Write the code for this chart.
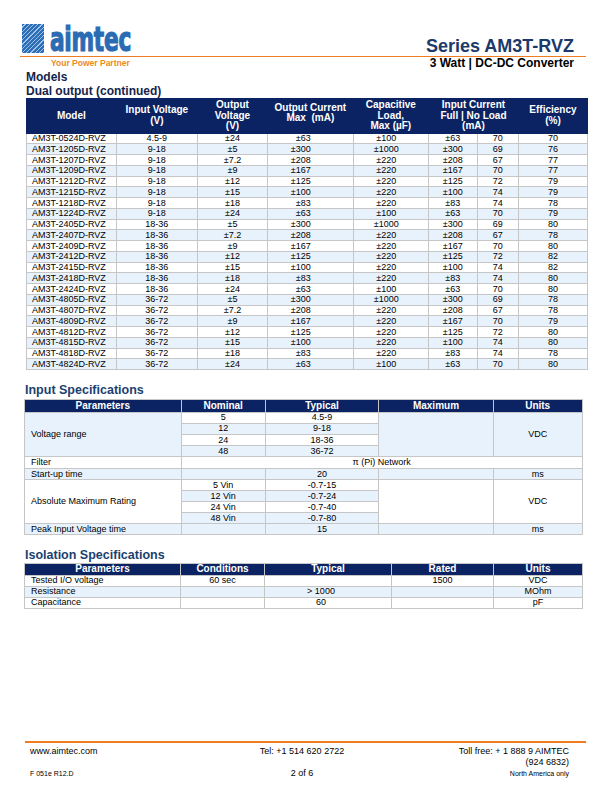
<!DOCTYPE html>
<html>
<head>
<meta charset="utf-8">
<script src="https://cdn.jsdelivr.net/npm/chart.js@4"></script>
<style>
  html, body { margin: 0; padding: 0; background: #fff; }
  #page { position: relative; width: 612px; height: 792px; overflow: hidden;
          font-family: "Liberation Sans", Arial, sans-serif; color: #000; }
  .t { position: absolute; white-space: nowrap; line-height: 1; }
  table { position: absolute; border-collapse: collapse; table-layout: fixed; font-size: 9px; }
  th { background: #0b2363; color: #fff; font-weight: bold; font-size: 10px; line-height: 10.5px;
       padding: 0; text-align: center; vertical-align: middle; }
  td { padding: 0; line-height: 9px; text-align: center; vertical-align: middle;
       border: 1px solid #c6c6c6; white-space: nowrap; overflow: hidden; }
  .blue td, td.blue { background: #e8f2fd; }
  td.l { text-align: left; padding-left: 5px; }
  #models th { border: 1px solid #0b2363; }
  #specs th, #iso th { border: 1px solid #c6c6c6; }
  .hline { position: absolute; background: #f07c22; height: 1.5px; }
</style>
</head>
<body>
<div id="page"></div>
<script>
// model table (dual output, continued)
const modelNames = ['AM3T-0524D-RVZ','AM3T-1205D-RVZ','AM3T-1207D-RVZ','AM3T-1209D-RVZ','AM3T-1212D-RVZ',
  'AM3T-1215D-RVZ','AM3T-1218D-RVZ','AM3T-1224D-RVZ','AM3T-2405D-RVZ','AM3T-2407D-RVZ','AM3T-2409D-RVZ',
  'AM3T-2412D-RVZ','AM3T-2415D-RVZ','AM3T-2418D-RVZ','AM3T-2424D-RVZ','AM3T-4805D-RVZ','AM3T-4807D-RVZ',
  'AM3T-4809D-RVZ','AM3T-4812D-RVZ','AM3T-4815D-RVZ','AM3T-4818D-RVZ','AM3T-4824D-RVZ'];
const inputVoltages = ['4.5-9','9-18','9-18','9-18','9-18','9-18','9-18','9-18','18-36','18-36','18-36',
  '18-36','18-36','18-36','18-36','36-72','36-72','36-72','36-72','36-72','36-72','36-72'];
const outputVoltages = ['±24','±5','±7.2','±9','±12','±15','±18','±24','±5','±7.2','±9',
  '±12','±15','±18','±24','±5','±7.2','±9','±12','±15','±18','±24'];
const outputCurrents = ['±63','±300','±208','±167','±125','±100','±83','±63','±300','±208','±167',
  '±125','±100','±83','±63','±300','±208','±167','±125','±100','±83','±63'];
const capLoads = ['±100','±1000','±220','±220','±220','±220','±220','±100','±1000','±220','±220',
  '±220','±220','±220','±100','±1000','±220','±220','±220','±220','±220','±100'];
const inputFullLoad = ['±63','±300','±208','±167','±125','±100','±83','±63','±300','±208','±167',
  '±125','±100','±83','±63','±300','±208','±167','±125','±100','±83','±63'];
const inputNoLoad = ['70','69','67','70','72','74','74','70','69','67','70',
  '72','74','74','70','69','67','70','72','74','74','70'];
const efficiencies = ['70','76','77','77','79','79','78','79','80','78','80',
  '82','82','80','80','78','78','79','80','80','78','80'];

// input specifications
const nominalInputs = ['5','12','24','48'];
const typicalRanges = ['4.5-9','9-18','18-36','36-72'];
const absMaxInputs = ['5 Vin','12 Vin','24 Vin','48 Vin'];
const absMaxRanges = ['-0.7-15','-0.7-24','-0.7-40','-0.7-80'];
const filterType = 'π (Pi) Network';
const startupTime = '20';
const peakTime = '15';

// isolation specifications
const isoParams = ['Tested I/O voltage','Resistance','Capacitance'];
const isoConditions = ['60 sec','',''];
const isoTypical = ['','> 1000','60'];
const isoRated = ['1500','',''];
const isoUnits = ['VDC','MOhm','pF'];

const page = document.getElementById('page');

// place a text by its baseline
function txt(s, x, base, size, opt) {
  opt = opt || {};
  const d = document.createElement('div');
  d.className = 't';
  d.textContent = s;
  d.style.fontSize = size + 'px';
  d.style.top = (base - 0.8465 * size) + 'px';
  if (opt.bold) d.style.fontWeight = 'bold';
  if (opt.color) d.style.color = opt.color;
  if (opt.align === 'right') { d.style.right = (612 - x) + 'px'; }
  else if (opt.align === 'center') { d.style.left = (x - 150) + 'px'; d.style.width = '300px'; d.style.textAlign = 'center'; }
  else d.style.left = x + 'px';
  page.appendChild(d);
  return d;
}
function hline(x1, x2, y) {
  const d = document.createElement('div');
  d.className = 'hline';
  d.style.left = x1 + 'px'; d.style.width = (x2 - x1) + 'px'; d.style.top = y + 'px';
  page.appendChild(d);
}

// logo
const sq = document.createElement('div');
sq.style.cssText = 'position:absolute;left:22px;top:24px;width:22px;height:29px;' +
  'background:repeating-linear-gradient(135deg,#2d6fb7 0 2px,#9fc3e8 2px 3px),#2d6fb7;';
page.appendChild(sq);
const logo = txt('aimtec', 50, 51, 26, { bold: true, color: '#2a6bb3' });
logo.style.fontFamily = '"Liberation Sans Narrow","DejaVu Sans Condensed",sans-serif';
logo.style.webkitTextStroke = '0.9px #2a6bb3';
logo.style.letterSpacing = '-0.3px';
// squeeze the word into the logo width, tall letters
const lw = logo.getBoundingClientRect().width;
logo.style.transformOrigin = '0 ' + (0.8465 * 26) + 'px';
logo.style.transform = 'scale(' + (81 / lw) + ',1.32)';
txt('Your Power Partner', 51, 66, 8.5, { bold: true, color: '#ee8a22' });

// title block
txt('Series AM3T-RVZ', 574, 52, 18, { bold: true, color: '#1b3a6b', align: 'right' });
hline(20, 586, 55.5);
txt('3 Watt | DC-DC Converter', 574, 67.5, 12, { bold: true, align: 'right' });
txt('Models', 26, 81.5, 12, { bold: true, color: '#16254a' });
txt('Dual output (continued)', 26, 95.5, 12, { bold: true, color: '#16254a' });

// models table
let h = '<colgroup><col style="width:89.7px"><col style="width:81.3px"><col style="width:70px">' +
  '<col style="width:85.7px"><col style="width:75.3px"><col style="width:48.7px"><col style="width:41.3px">' +
  '<col style="width:69px"></colgroup>';
h += '<tr style="height:34.7px"><th>Model</th><th>Input Voltage<br>(V)</th><th>Output<br>Voltage<br>(V)</th>' +
  '<th style="padding-bottom:5px">Output Current<br>Max&nbsp; (mA)</th><th>Capacitive<br>Load,<br>Max (µF)</th>' +
  '<th colspan="2">Input Current<br>Full | No Load<br>(mA)</th><th>Efficiency<br>(%)</th></tr>';
modelNames.forEach((m, i) => {
  h += '<tr style="height:10.75px"' + (i % 2 ? ' class="blue"' : '') + '>' +
    '<td class="l">' + m + '</td><td>' + inputVoltages[i] + '</td><td>' + outputVoltages[i] + '</td>' +
    '<td style="text-align:right;padding-right:42px">' + outputCurrents[i] + '</td>' +
    '<td style="padding-right:9px">' + capLoads[i] + '</td><td>' + inputFullLoad[i] + '</td>' +
    '<td>' + inputNoLoad[i] + '</td><td>' + efficiencies[i] + '</td></tr>';
});
const tm = document.createElement('table');
tm.id = 'models';
tm.style.cssText = 'left:26px;top:98px;width:561px;';
tm.innerHTML = h;
page.appendChild(tm);

// input specifications
txt('Input Specifications', 25, 394.5, 12.5, { bold: true, color: '#1b3f70' });
h = '<colgroup><col style="width:156.7px"><col style="width:84px"><col style="width:113.6px">' +
  '<col style="width:114.4px"><col style="width:89px"></colgroup>';
h += '<tr style="height:12.3px"><th>Parameters</th><th>Nominal</th><th>Typical</th><th>Maximum</th><th>Units</th></tr>';
nominalInputs.forEach((n, i) => {
  const c = i % 2 ? ' class="blue"' : '';
  h += '<tr style="height:11.2px">' +
    (i === 0 ? '<td rowspan="4" class="l blue">Voltage range</td>' : '') +
    '<td' + c + '>' + n + '</td><td' + c + '>' + typicalRanges[i] + '</td>' +
    (i === 0 ? '<td rowspan="4" class="blue"></td><td rowspan="4" class="blue">VDC</td>' : '') + '</tr>';
});
h += '<tr style="height:12px"><td class="l">Filter</td><td colspan="4">' + filterType + '</td></tr>';
h += '<tr style="height:11px" class="blue"><td class="l">Start-up time</td><td></td><td>' + startupTime +
  '</td><td></td><td>ms</td></tr>';
absMaxInputs.forEach((n, i) => {
  const c = i % 2 ? ' class="blue"' : '';
  h += '<tr style="height:11px">' +
    (i === 0 ? '<td rowspan="4" class="l">Absolute Maximum Rating</td>' : '') +
    '<td' + c + '>' + n + '</td><td' + c + '>' + absMaxRanges[i] + '</td>' +
    (i === 0 ? '<td rowspan="4"></td><td rowspan="4">VDC</td>' : '') + '</tr>';
});
h += '<tr style="height:10.7px" class="blue"><td class="l">Peak Input Voltage time</td><td></td><td>' + peakTime +
  '</td><td></td><td>ms</td></tr>';
const ts = document.createElement('table');
ts.id = 'specs';
ts.style.cssText = 'left:24px;top:399.3px;width:557.7px;';
ts.innerHTML = h;
page.appendChild(ts);
ts.querySelectorAll('td.l').forEach(td => td.style.paddingLeft = '6px');

// isolation specifications
txt('Isolation Specifications', 25, 559.5, 12.5, { bold: true, color: '#1b3f70' });
h = '<colgroup><col style="width:156px"><col style="width:84px"><col style="width:127px">' +
  '<col style="width:102px"><col style="width:89px"></colgroup>';
h += '<tr style="height:11px"><th>Parameters</th><th>Conditions</th><th>Typical</th><th>Rated</th><th>Units</th></tr>';
isoParams.forEach((p, i) => {
  h += '<tr style="height:11px"' + (i % 2 ? ' class="blue"' : '') + '>' +
    '<td class="l" style="padding-left:6px">' + p + '</td><td>' + isoConditions[i] + '</td>' +
    '<td style="padding-right:14px">' + isoTypical[i] + '</td><td>' + isoRated[i] + '</td><td>' + isoUnits[i] + '</td></tr>';
});
const ti = document.createElement('table');
ti.id = 'iso';
ti.style.cssText = 'left:24px;top:563.3px;width:558px;';
ti.innerHTML = h;
page.appendChild(ti);

// footer
hline(25, 586, 741);
txt('www.aimtec.com', 30, 754.5, 9);
txt('Tel: +1 514 620 2722', 302, 754.5, 9, { align: 'center' });
txt('Toll free: + 1 888 9 AIMTEC', 569, 754.5, 9, { align: 'right' });
txt('(924 6832)', 569, 765.5, 9, { align: 'right' });
txt('F 051e R12.D', 30, 776, 7);
txt('2 of 6', 302, 777, 9, { align: 'center' });
txt('North America only', 569, 776, 7, { align: 'right' });
</script>
</body>
</html>
